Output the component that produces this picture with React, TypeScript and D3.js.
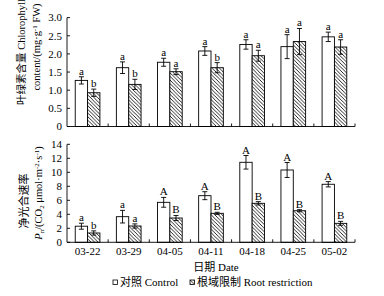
import React from "react";
import * as d3 from "d3";

const dates = ["03-22", "03-29", "04-05", "04-11", "04-18", "04-25", "05-02"];
const chlControl = [1.27, 1.62, 1.77, 2.08, 2.26, 2.2, 2.47];
const chlControlErr = [0.1, 0.16, 0.11, 0.12, 0.13, 0.33, 0.13];
const chlRoot = [0.93, 1.16, 1.51, 1.62, 1.95, 2.34, 2.19];
const chlRootErr = [0.1, 0.14, 0.08, 0.14, 0.15, 0.36, 0.2];
const chlLetC = ["a", "a", "a", "a", "a", "a", "a"];
const chlLetR = ["b", "b", "a", "b", "a", "a", "a"];

const pnControl = [2.3, 3.66, 5.71, 6.66, 11.43, 10.33, 8.29];
const pnControlErr = [0.43, 0.9, 0.7, 0.57, 0.97, 1.07, 0.38];
const pnRoot = [1.33, 2.33, 3.47, 4.14, 5.57, 4.51, 2.71];
const pnRootErr = [0.3, 0.3, 0.36, 0.15, 0.24, 0.15, 0.28];
const pnLetC = ["a", "a", "A", "A", "A", "A", "A"];
const pnLetR = ["b", "a", "B", "B", "B", "B", "B"];

const chlTicks = [0, 0.5, 1.0, 1.5, 2.0, 2.5, 3.0];
const pnTicks = [0, 2, 4, 6, 8, 10, 12, 14];

const FONT = "'Liberation Serif', 'Times New Roman', 'Noto Sans CJK SC', serif";
const CJK = "'Noto Sans CJK SC', sans-serif";

const x = d3.scaleBand<string>().domain(dates).range([67, 355]).padding(0);
const bw = x.bandwidth();
const barW = bw * 0.3;

function Panel({ y, ticks, ctrl, ctrlErr, root, rootErr, letC, letR, fmt }: any) {
  const [y0] = y.range();
  const xs = x.range();
  return (
    <g>
      {dates.map((d, i) => {
        const cx = (x(d) as number) + bw / 2;
        const items = [
          { v: ctrl[i], e: ctrlErr[i], l: letC[i], x0: cx - barW, fill: "#fff" },
          { v: root[i], e: rootErr[i], l: letR[i], x0: cx, fill: "url(#hatch)" },
        ];
        return (
          <g key={d}>
            {items.map((it, j) => {
              const mx = it.x0 + barW / 2;
              return (
                <g key={j}>
                  <rect x={it.x0} y={y(it.v)} width={barW} height={y0 - y(it.v)} fill={it.fill} stroke="#000" strokeWidth={0.9} />
                  <line x1={mx} x2={mx} y1={y(it.v + it.e)} y2={y(it.v - it.e)} stroke="#000" strokeWidth={0.9} />
                  <line x1={mx - 2.5} x2={mx + 2.5} y1={y(it.v + it.e)} y2={y(it.v + it.e)} stroke="#000" strokeWidth={0.9} />
                  <line x1={mx - 2.5} x2={mx + 2.5} y1={y(it.v - it.e)} y2={y(it.v - it.e)} stroke="#000" strokeWidth={0.9} />
                  <text x={mx} y={y(it.v + it.e) - 2} textAnchor="middle" fontSize={11} fontFamily={FONT}>{it.l}</text>
                </g>
              );
            })}
          </g>
        );
      })}
      <line x1={xs[0]} x2={xs[1]} y1={y0} y2={y0} stroke="#000" strokeWidth={0.9} />
      {dates.map((d) => {
        const xe = (x(d) as number) + bw;
        return <line key={d} x1={xe} x2={xe} y1={y0} y2={y0 - 3} stroke="#000" strokeWidth={0.9} />;
      })}
      <line x1={xs[0]} x2={xs[0]} y1={y0} y2={y.range()[1]} stroke="#000" strokeWidth={0.9} />
      {ticks.map((t: number) => (
        <g key={t}>
          <line x1={xs[0]} x2={xs[0] + 3} y1={y(t)} y2={y(t)} stroke="#000" strokeWidth={0.9} />
          <text x={62} y={y(t)} dy="0.35em" textAnchor="end" fontSize={11} fontFamily={FONT}>{fmt(t)}</text>
        </g>
      ))}
    </g>
  );
}

export default function App() {
  const yChl = d3.scaleLinear().domain([0, 3]).range([126.5, 17.6]);
  const yPn = d3.scaleLinear().domain([0, 14]).range([242.3, 144.3]);
  return (
    <svg width={384} height={296} style={{ position: "absolute", left: 0, top: 0 }}>
      <defs>
        <pattern id="hatch" patternUnits="userSpaceOnUse" width={3.6} height={3.6}>
          <rect width={3.6} height={3.6} fill="#fff" />
          <path d="M-1,-1 L4.6,4.6 M-1,2.6 L1,4.6 M2.6,-1 L4.6,1" stroke="#000" strokeWidth={0.85} />
        </pattern>
      </defs>
      <rect width={384} height={296} fill="#fff" />
      <Panel y={yChl} ticks={chlTicks} ctrl={chlControl} ctrlErr={chlControlErr} root={chlRoot} rootErr={chlRootErr} letC={chlLetC} letR={chlLetR} fmt={(t: number) => (t === 0 ? "0" : t.toFixed(1))} />
      <Panel y={yPn} ticks={pnTicks} ctrl={pnControl} ctrlErr={pnControlErr} root={pnRoot} rootErr={pnRootErr} letC={pnLetC} letR={pnLetR} fmt={(t: number) => String(t)} />
      {dates.map((d) => (
        <text key={d} x={(x(d) as number) + bw / 2} y={254.5} textAnchor="middle" fontSize={11} fontFamily={FONT}>{d}</text>
      ))}
      <g transform="translate(25,52) rotate(-90)">
        <text textAnchor="middle" fontSize={10.5} fontFamily={FONT}>
          <tspan fontFamily={CJK}>叶绿素含量</tspan> Chlorophyll
        </text>
      </g>
      <g transform="translate(40,47) rotate(-90)">
        <text textAnchor="middle" fontSize={10.5} fontFamily={FONT}>
          content/(mg·g<tspan dy="-3" fontSize={7}>-1</tspan><tspan dy="3"> FW)</tspan>
        </text>
      </g>
      <g transform="translate(28,201) rotate(-90)">
        <text textAnchor="middle" fontSize={11} fontFamily={CJK}>净光合速率</text>
      </g>
      <g transform="translate(42,193) rotate(-90)">
        <text textAnchor="middle" fontSize={10.5} fontFamily={FONT}>
          <tspan fontStyle="italic">P</tspan><tspan dy="2" fontSize={7}>n</tspan><tspan dy="-2">/(CO</tspan><tspan dy="2" fontSize={7}>2</tspan><tspan dy="-2"> μmol·m</tspan><tspan dy="-3" fontSize={7}>-2</tspan><tspan dy="3">·s</tspan><tspan dy="-3" fontSize={7}>-1</tspan><tspan dy="3">)</tspan>
        </text>
      </g>
      <text x={216} y={271} textAnchor="middle" fontSize={11} fontFamily={FONT}>
        <tspan fontFamily={CJK}>日期</tspan> Date
      </text>
      <g fontSize={11} fontFamily={FONT}>
        <rect x={113} y={280} width={4.5} height={4.5} fill="#fff" stroke="#000" strokeWidth={0.8} />
        <text x={120} y={286}><tspan fontFamily={CJK}>对照</tspan> Control</text>
        <rect x={190} y={280} width={4.5} height={4.5} fill="url(#hatch)" stroke="#000" strokeWidth={0.8} />
        <text x={197} y={286}><tspan fontFamily={CJK}>根域限制</tspan> Root restriction</text>
      </g>
    </svg>
  );
}
